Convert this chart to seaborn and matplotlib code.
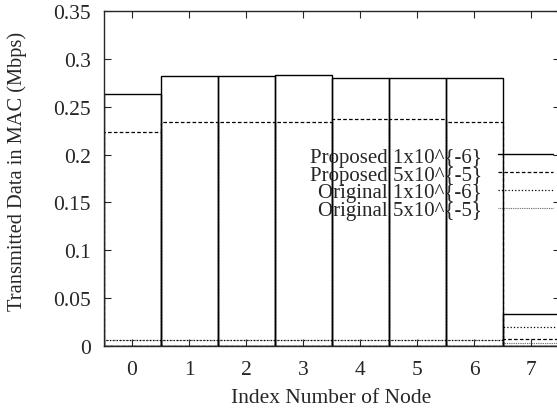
import matplotlib
matplotlib.use("Agg")
import matplotlib.pyplot as plt
import seaborn as sns
import pandas as pd

# Transmitted data per node (Mbps)
nodes = ["0", "1", "2", "3", "4", "5", "6", "7"]
proposed_1e6 = [0.263, 0.282, 0.282, 0.283, 0.280, 0.280, 0.280, 0.033]
proposed_5e5 = [0.224, 0.234, 0.234, 0.234, 0.237, 0.237, 0.234, 0.007]
original_1e6 = [0.0065, 0.0065, 0.0065, 0.0065, 0.0065, 0.0065, 0.0065, 0.0195]
original_5e5 = [0.006, 0.006, 0.006, 0.006, 0.006, 0.006, 0.006, 0.003]

series_names = ["Proposed 1x10^{-6}", "Proposed 5x10^{-5}",
                "Original 1x10^{-6}", "Original 5x10^{-5}"]
y_ticks = [0, 0.05, 0.1, 0.15, 0.2, 0.25, 0.3, 0.35]
y_tick_labels = ["0", "0.05", "0.1", "0.15", "0.2", "0.25", "0.3", "0.35"]

sns.set_style("ticks")
plt.rcParams["font.family"] = ["Liberation Serif", "DejaVu Serif"]
plt.rcParams["lines.scale_dashes"] = False

FS = 15.5

styles = {
    series_names[0]: dict(color="black", linestyle="-", linewidth=1.0),
    series_names[1]: dict(color="black", linestyle=(0, (2.6, 1.6)), linewidth=0.9),
    series_names[2]: dict(color="black", linestyle=(0, (0.9, 1.5)), linewidth=0.9),
    series_names[3]: dict(color="#555555", linestyle=(0, (0.6, 0.7)), linewidth=0.8),
}

values = {
    series_names[0]: proposed_1e6,
    series_names[1]: proposed_5e5,
    series_names[2]: original_1e6,
    series_names[3]: original_5e5,
}

W, H = 557, 414
fig = plt.figure(figsize=(W / 100, H / 100), dpi=100)
ax = fig.add_axes([103.5 / W, (H - 347) / H, (559.5 - 103.5) / W, (347 - 12) / H])

# draw back-to-front so the solid outlines stay on top
for name in reversed(series_names):
    df = pd.DataFrame({"node": nodes, "value": values[name]})
    st = styles[name]
    sns.barplot(data=df, x="node", y="value", order=nodes, ax=ax,
                width=1.0, fill=False, color=st["color"], errorbar=None,
                linestyle=st["linestyle"], linewidth=st["linewidth"])

ax.set_xlim(-0.5, 7.5)
ax.set_ylim(0, 0.35)
ax.set_yticks(y_ticks)
ax.set_yticklabels(y_tick_labels)
ax.set_xlabel("Index Number of Node", fontsize=FS)
ax.set_ylabel("Transmitted Data in MAC (Mbps)", fontsize=14.7)
ax.xaxis.set_label_coords(0.5, -0.125)
ax.yaxis.set_label_coords(-0.168, 0.524)
ax.tick_params(axis="both", direction="in", labelsize=FS, length=5, width=0.8,
               top=True, right=True)
ax.tick_params(axis="y", pad=9)
ax.tick_params(axis="x", pad=10)
for sp in ax.spines.values():
    sp.set_linewidth(1.0)
    sp.set_visible(True)

handles = [plt.Line2D([], [], color=styles[n]["color"], linestyle=styles[n]["linestyle"],
                      linewidth=styles[n]["linewidth"]) for n in series_names]
leg = ax.legend(handles, series_names, loc="upper right", frameon=False,
                markerfirst=False, fontsize=15, handlelength=2.65, handletextpad=0.75,
                labelspacing=-0.08, borderaxespad=0, borderpad=0,
                bbox_to_anchor=(553 / W, (H - 148) / H), bbox_transform=fig.transFigure)
for t in leg.get_texts():
    t.set_ha("right")

fig.savefig("out.png", dpi=100)
